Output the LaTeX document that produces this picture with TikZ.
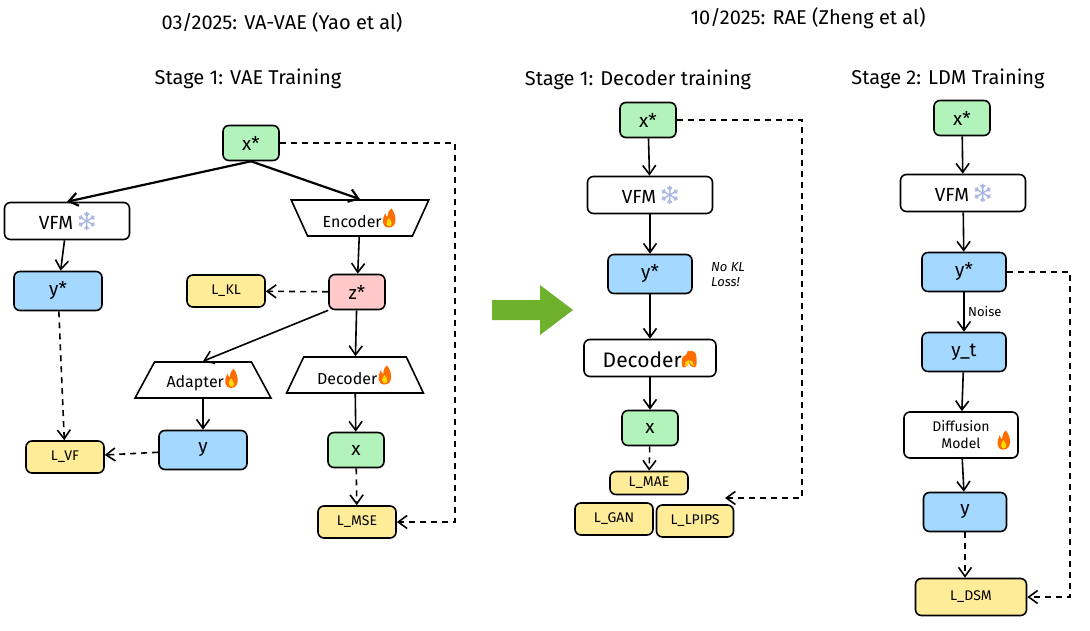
\documentclass[tikz,border=0pt]{standalone}
\usepackage{fontspec}
\setmainfont{Fira Sans}
\usetikzlibrary{arrows.meta,shapes.geometric,positioning}

\definecolor{xgreen}{HTML}{B2F2BB}
\definecolor{yblue}{HTML}{A5D8FF}
\definecolor{lyellow}{HTML}{FFEC99}
\definecolor{zpink}{HTML}{FFC9C9}
\definecolor{bigarrow}{HTML}{6DB12C}

\newcommand{\flame}{\tikz[baseline=0pt,x=1.2pt,y=1.2pt]{
  \fill[orange!85!red] (6,0) .. controls (0,0) and (0,7) .. (3,12) .. controls (4,9) .. (5,9)
    .. controls (5,13) and (7,15) .. (8,16) .. controls (13,10) and (13,0) .. (6,0) -- cycle;
  \fill[yellow!80!orange] (6.5,1) .. controls (3.5,1) and (3.5,5) .. (6,8) .. controls (9,5) and (9,1) .. (6.5,1) -- cycle;}}
\newcommand{\flake}{\tikz[baseline=-1pt,x=1.3pt,y=1.3pt,line width=1.3pt,cyan!40!blue!35]{
  \foreach \a in {90,150,...,450}{
    \draw (0,6) -- ++(\a:7) ++(\a+180:3) -- ++(\a+40:2.5) ++(\a+220:2.5) -- ++(\a-40:2.5);}}}

\tikzset{
  box/.style={draw=black, line width=1.6pt, rounded corners=6pt, align=center, inner sep=0pt, font=\fontsize{19}{21}\selectfont},
  var/.style={box, minimum width=56pt, minimum height=35pt},
  feat/.style={box, fill=yblue, minimum width=88pt, minimum height=39pt},
  loss/.style={box, fill=lyellow, minimum width=78pt, minimum height=32pt, font=\fontsize{14}{16}\selectfont},
  net/.style={box, fill=white, minimum width=125pt, minimum height=37pt},
  trap/.style={draw=black, line width=1.6pt, trapezium, trapezium stretches=true, minimum height=36pt, inner sep=0pt, font=\fontsize{16}{18}\selectfont},
  flow/.style={line width=1.6pt, -{Straight Barb[length=9pt,width=13pt]}},
  dflow/.style={flow, dashed, dash pattern=on 6pt off 5pt},
  title/.style={font=\fontsize{20}{22}\selectfont},
  note/.style={font=\fontsize{13}{15}\selectfont\itshape, align=left}
}

\begin{document}
\begin{tikzpicture}[x=1pt,y=-1pt]
\useasboundingbox (0,0) rectangle (1090,631);

% titles
\node[title] (t1) at (282,23) {03/2025: VA-VAE (Yao et al)};
\node[title] (t2) at (808,18) {10/2025: RAE (Zheng et al)};
\node[title] (s1) at (248,79) {Stage 1: VAE Training};
\node[title] (s2) at (638,80) {Stage 1: Decoder training};
\node[title] (s3) at (948,79) {Stage 2: LDM Training};

% VA-VAE
\node[var, fill=xgreen] (xs1) at (251,143) {x*};
\node[net] (vfm1) at (67,221) {VFM \flake};
\node[trap, shape border rotate=180, trapezium angle=59, minimum width=138pt] (enc1) at (360,218) {Encoder\flame};
\node[feat] (ys1) at (58,291) {y*};
\node[loss] (kl) at (226,291) {L\_KL};
\node[var, fill=zpink] (z1) at (357,292) {z*};
\node[trap, trapezium angle=57, minimum width=136pt] (ad1) at (203,380) {Adapter\flame};
\node[trap, trapezium angle=57, minimum width=137pt] (dec1) at (355,375) {Decoder\flame};
\node[loss] (lvf) at (65,457) {L\_VF};
\node[feat] (y1) at (203,450) {y};
\node[var, fill=xgreen] (x1) at (356,450) {x};
\node[loss] (mse) at (357,522) {L\_MSE};
\coordinate (c1) at (455,143);
\coordinate (c2) at (455,522);

\draw[flow, line width=2.2pt] (xs1.south) -- (vfm1.north);
\draw[flow, line width=2.2pt] (xs1.south) -- (enc1.north);
\draw[flow] (vfm1) -- (ys1);
\draw[dflow] (ys1) -- (lvf);
\draw[flow] (enc1) -- (z1);
\draw[dflow] (z1) -- (kl);
\draw[flow] (z1.south west) -- (ad1.north);
\draw[flow] (z1) -- (dec1);
\draw[flow] (ad1) -- (y1);
\draw[dflow] (y1) -- (lvf);
\draw[flow] (dec1) -- (x1);
\draw[dflow] (x1) -- (mse);
\draw[dflow] (xs1) -- (c1) -- (c2) -- (mse);

% big arrow
\fill[bigarrow] (492,300) -- (540,300) -- (540,285) -- (573,310) -- (540,335) -- (540,320) -- (492,320) -- cycle;

% RAE stage 1
\node[var, fill=xgreen] (xs2) at (648,120) {x*};
\node[net] (vfm2) at (650,195) {VFM \flake};
\node[feat, minimum width=84pt] (ys2) at (650,274) {y*};
\node[note] (nokl) at (728,275) {No KL\\Loss!};
\node[net, minimum width=132pt, font=\fontsize{21}{23}\selectfont] (dec2) at (650,358) {Decoder\flame};
\node[var, fill=xgreen] (x2) at (650,428) {x};
\node[loss, minimum height=23pt] (mae) at (649,483) {L\_MAE};
\node[loss] (gan) at (614,519) {L\_GAN};
\node[loss, minimum width=77pt] (lpips) at (695,521) {L\_LPIPS};
\coordinate (c3) at (802,120);
\coordinate (c4) at (802,498);
\coordinate (c5) at (725,498);

\draw[flow] (xs2) -- (vfm2);
\draw[flow] (vfm2) -- (ys2);
\draw[flow] (ys2) -- (dec2);
\draw[flow] (dec2) -- (x2);
\draw[dflow] (x2) -- (mae);
\draw[dflow] (xs2) -- (c3) -- (c4) -- (c5);

% RAE stage 2
\node[var, fill=xgreen] (xs3) at (962,118) {x*};
\node[net] (vfm3) at (963,193) {VFM \flake};
\node[feat, minimum width=84pt] (ys3) at (964,272) {y*};
\node[feat, minimum width=84pt] (yt) at (964,352) {y\_t};
\node[box, fill=white, minimum width=114pt, minimum height=46pt, font=\fontsize{14}{17}\selectfont] (diff) at (961,435) {Diffusion\\Model\hspace{8pt}};
\node (fl3) at (1004,440) {\flame};
\node[feat, minimum width=83pt] (y3) at (965,512) {y};
\node[loss, minimum width=111pt, minimum height=37pt] (dsm) at (971,597) {L\_DSM};
\coordinate (c6) at (1070,272);
\coordinate (c7) at (1070,597);

\draw[flow] (xs3) -- (vfm3);
\draw[flow] (vfm3) -- (ys3);
\draw[flow] (ys3) -- node[right, note, font=\fontsize{13}{15}\selectfont] {Noise} (yt);
\draw[flow] (yt) -- (diff);
\draw[flow] (diff) -- (y3);
\draw[dflow] (y3) -- (y3 |- dsm.north);
\draw[dflow] (ys3) -- (c6) -- (c7) -- (dsm);
\end{tikzpicture}
\end{document}
